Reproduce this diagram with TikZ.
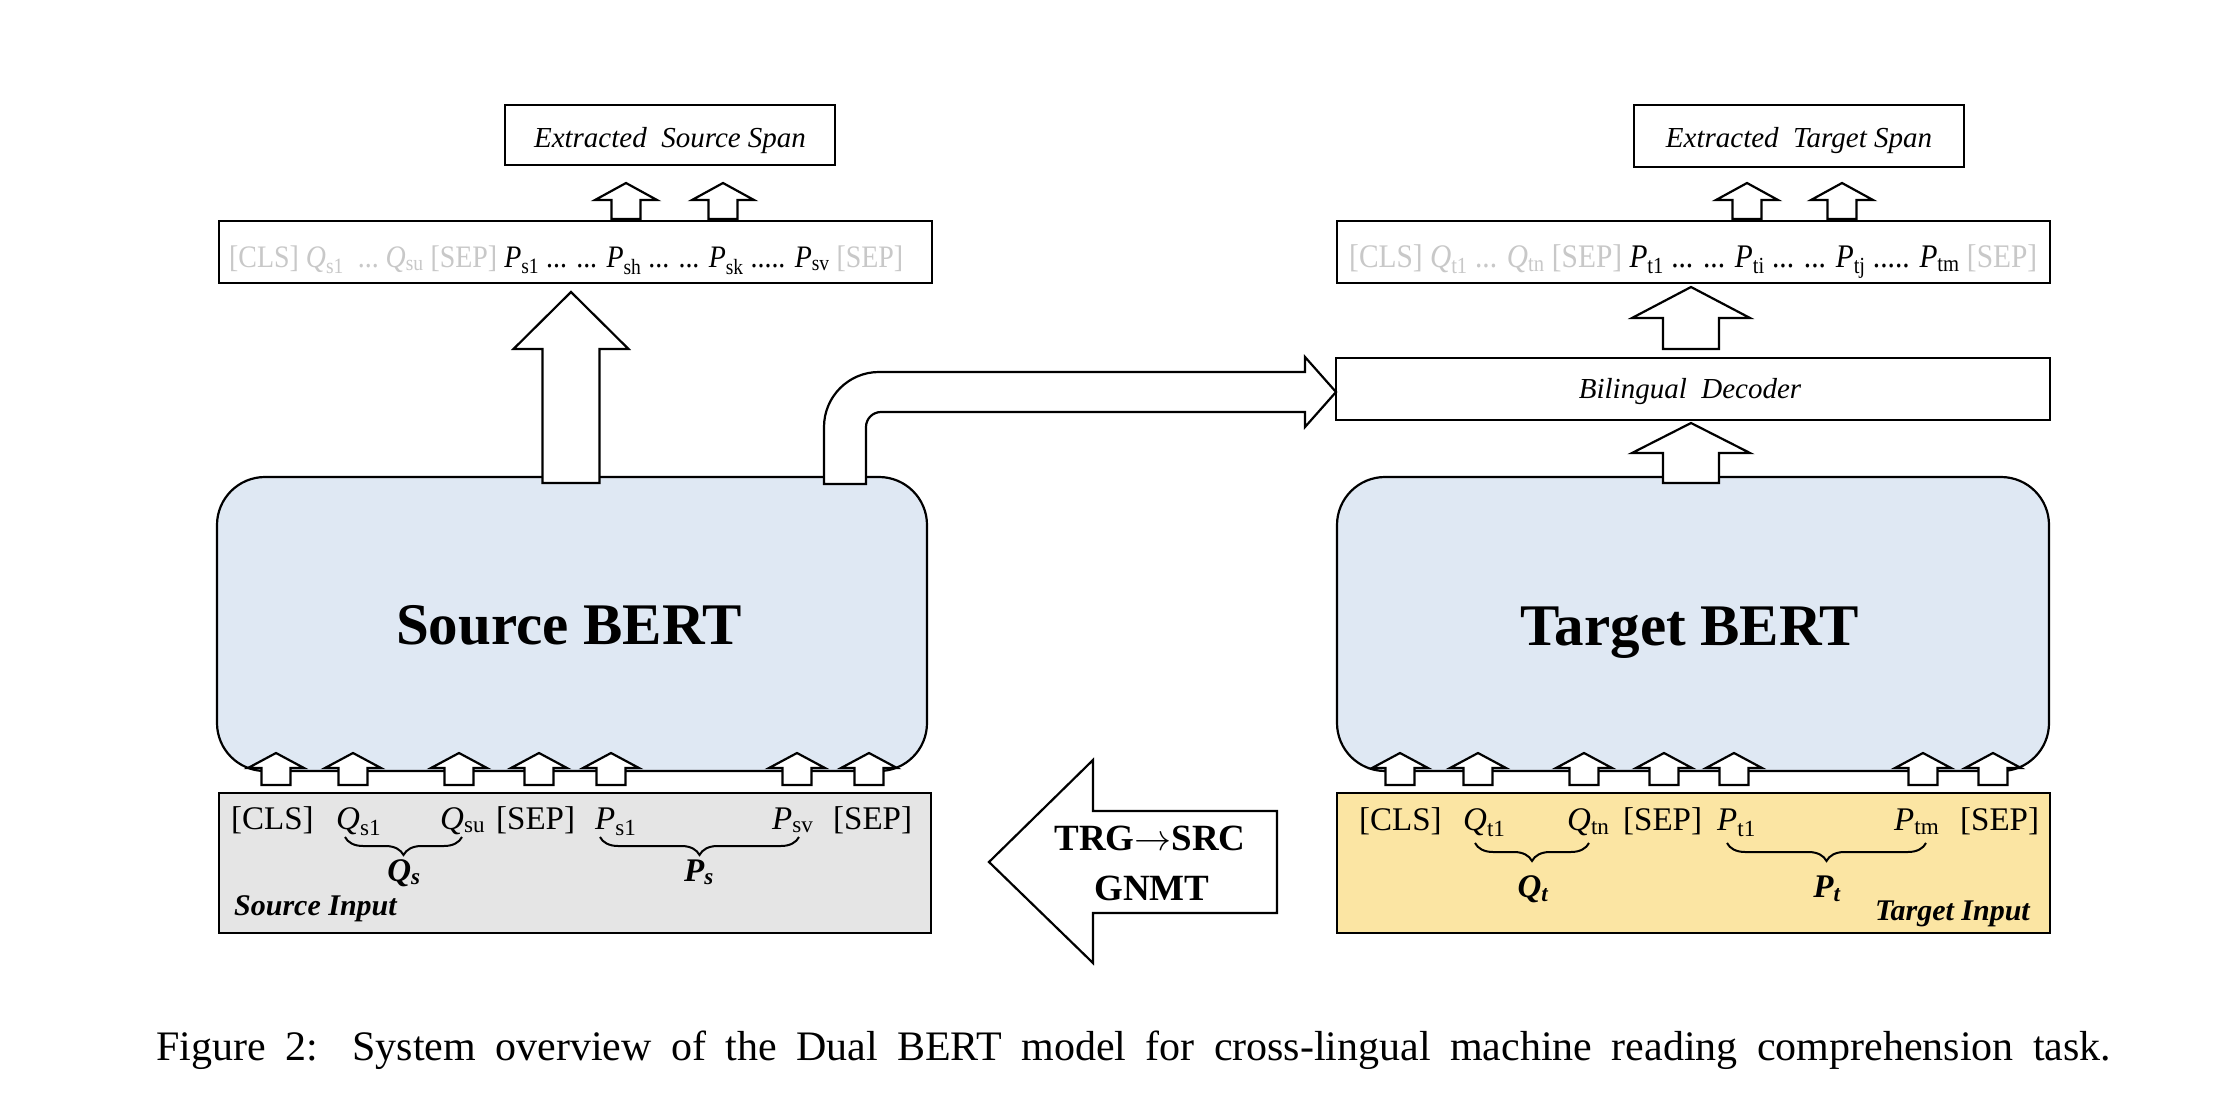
\documentclass[tikz,border=0pt]{standalone}
\usepackage{fontspec}
\setmainfont{Liberation Serif}
\usetikzlibrary{decorations.pathreplacing}
\definecolor{bertblue}{RGB}{223,232,243}
\definecolor{ingray}{RGB}{229,229,229}
\definecolor{inyellow}{RGB}{251,229,163}
\definecolor{tokgray}{RGB}{200,200,200}
\newcommand{\blkup}[6]{\draw[blockarrow] (#1,#2) -- ({#1+#5},#3) -- ({#1+#6},#3) -- ({#1+#6},#4) -- ({#1-#6},#4) -- ({#1-#6},#3) -- ({#1-#5},#3) -- cycle;}
\newcommand{\sq}[2]{\textit{#1}\textsubscript{#2}}
\begin{document}
\begin{tikzpicture}[x=1pt,y=-1pt,
  box/.style={draw, line width=2.2pt, fill=white, inner sep=0pt},
  bert/.style={draw, line width=2.2pt, fill=bertblue, rounded corners=48pt, inner sep=0pt},
  blockarrow/.style={draw, fill=white, line width=2.2pt, line join=miter},
  lbl/.style={inner sep=0pt, font=\itshape\fontsize{29}{34}\selectfont},
  tok/.style={inner sep=0pt, anchor=base west, font=\fontsize{33}{38}\selectfont},
  grp/.style={inner sep=0pt, anchor=base, font=\bfseries\itshape\fontsize{33}{38}\selectfont},
  brc/.style={decorate, decoration={brace, mirror, amplitude=18pt}, line width=2pt},
  big/.style={inner sep=0pt, anchor=base, font=\bfseries\fontsize{59}{66}\selectfont},
  gnmt/.style={inner sep=0pt, anchor=base, font=\bfseries\fontsize{37}{42}\selectfont}]
\useasboundingbox (0,0) rectangle (2222,1108);
\fill[white] (0,0) rectangle (2222,1108);

% ---------- top boxes ----------
\node[box, minimum width=330pt, minimum height=60pt] (ess) at (670,135) {};
\node[lbl, anchor=base] (esst) at (670,147) {Extracted\ \ Source Span};
\node[box, minimum width=330pt, minimum height=62pt] (ets) at (1799,136) {};
\node[lbl, anchor=base] (etst) at (1799,147) {Extracted\ \ Target Span};

\node[box, minimum width=713pt, minimum height=62pt] (stok) at (575.5,252) {};
\node[inner sep=0pt, anchor=base west] (stokt) at (229,267) {\scalebox{1}[1.12]{\resizebox{674pt}{!}{\fontsize{33}{38}\selectfont
 {\color{tokgray}[CLS] \sq{Q}{s1}\ \ ...\ \sq{Q}{su} [SEP]} \sq{P}{s1} ... ... \sq{P}{sh} ... ... \sq{P}{sk} ..... \sq{P}{sv} {\color{tokgray}[SEP]}}}};
\node[box, minimum width=713pt, minimum height=62pt] (ttok) at (1693.5,252) {};
\node[inner sep=0pt, anchor=base west] (ttokt) at (1349,267) {\scalebox{1}[1.12]{\resizebox{688pt}{!}{\fontsize{33}{38}\selectfont
 {\color{tokgray}[CLS] \sq{Q}{t1} ... \sq{Q}{tn} [SEP]} \sq{P}{t1} ... ... \sq{P}{ti} ... ... \sq{P}{tj} ..... \sq{P}{tm} {\color{tokgray}[SEP]}}}};

\node[box, minimum width=714pt, minimum height=62pt] (bild) at (1693,389) {};
\node[lbl, anchor=base] (bildt) at (1690,398) {Bilingual\ \ Decoder};

% small arrows to span boxes
\blkup{626}{183}{200}{219}{31}{14.5}
\blkup{723}{183}{200}{219}{31}{14.5}
\blkup{1747}{183}{200}{219}{31}{14.5}
\blkup{1842}{183}{200}{219}{31}{14.5}

% ---------- BERT boxes ----------
\node[bert, minimum width=710pt, minimum height=294pt] (sbert) at (572,624) {};
\node[big] (sbertt) at (569,644) {Source BERT};
\node[bert, minimum width=712pt, minimum height=294pt] (tbert) at (1693,624) {};
\node[big] (tbertt) at (1690,645) {Target BERT};

% big arrow source
\blkup{571}{292}{349}{483}{57.5}{28.5}
% target arrows
\blkup{1691}{287}{318}{349}{59}{28}
\blkup{1691}{423}{453}{483}{59}{28}

% bent arrow
\draw[blockarrow] (824,484) -- (824,427) .. controls (824,396.6) and (848.6,372) .. (879,372) -- (1305,372) -- (1305,357) -- (1336,392) -- (1305,427) -- (1305,412) -- (881,412) .. controls (872.7,412) and (866,418.7) .. (866,427) -- (866,484) -- cycle;

% ---------- input boxes ----------
\node[box, fill=ingray, minimum width=712pt, minimum height=140pt] (sin) at (575,863) {};
\node[box, fill=inyellow, minimum width=713pt, minimum height=140pt] (tin) at (1693.5,863) {};

\foreach \cx in {276,353,459,539,611,797,869} {\blkup{\cx}{753}{768}{785}{28}{14.5}}
\foreach \cx in {1400,1478,1584,1664,1734,1923,1993} {\blkup{\cx}{753}{768}{785}{28}{14.5}}

% source input row
\node[tok] (s1) at (231,829) {[CLS]};
\node[tok] (s2) at (336,829) {\sq{Q}{s1}};
\node[tok] (s3) at (440,829) {\sq{Q}{su}};
\node[tok] (s4) at (496,829) {[SEP]};
\node[tok] (s5) at (595,829) {\sq{P}{s1}};
\node[tok] (s6) at (772,829) {\sq{P}{sv}};
\node[tok] (s7) at (833,829) {[SEP]};
\draw[brc] (345,837) -- (462,837);
\draw[brc] (600,837) -- (799,837);
\node[grp] (qs) at (404,881) {\textit{Q}\textsubscript{\textit{s}}};
\node[grp] (ps) at (699,881) {\textit{P}\textsubscript{\textit{s}}};
\node[inner sep=0pt, anchor=base west, font=\bfseries\itshape\fontsize{30}{34}\selectfont] (sinl) at (234,915) {Source Input};

% target input row
\node[tok] (t1) at (1359,830) {[CLS]};
\node[tok] (t2) at (1463,830) {\sq{Q}{t1}};
\node[tok] (t3) at (1567,830) {\sq{Q}{tn}};
\node[tok] (t4) at (1623,830) {[SEP]};
\node[tok] (t5) at (1717,830) {\sq{P}{t1}};
\node[tok] (t6) at (1894,830) {\sq{P}{tm}};
\node[tok] (t7) at (1960,830) {[SEP]};
\draw[brc] (1475,843) -- (1589,843);
\draw[brc] (1727,843) -- (1926,843);
\node[grp] (qt) at (1533,897) {\textit{Q}\textsubscript{\textit{t}}};
\node[grp] (pt) at (1827,897) {\textit{P}\textsubscript{\textit{t}}};
\node[inner sep=0pt, anchor=base east, font=\bfseries\itshape\fontsize{30}{34}\selectfont] (tinl) at (2030,920) {Target Input};

% TRG->SRC arrow
\draw[blockarrow] (989,862) -- (1093,760) -- (1093,811) -- (1277,811) -- (1277,913) -- (1093,913) -- (1093,963) -- cycle;
\node[gnmt] (g1) at (1150,850) {TRG\resizebox{37pt}{!}{$\rightarrow$}SRC};
\node[gnmt] (g2) at (1152,900) {GNMT};

% caption
\node[inner sep=0pt, anchor=base west] (cap) at (156,1060) {\makebox[1955pt][s]{\fontsize{42}{48}\selectfont Figure 2:\hspace{3pt} System overview of the Dual BERT model for cross-lingual machine reading comprehension task.}};
\end{tikzpicture}
\end{document}
